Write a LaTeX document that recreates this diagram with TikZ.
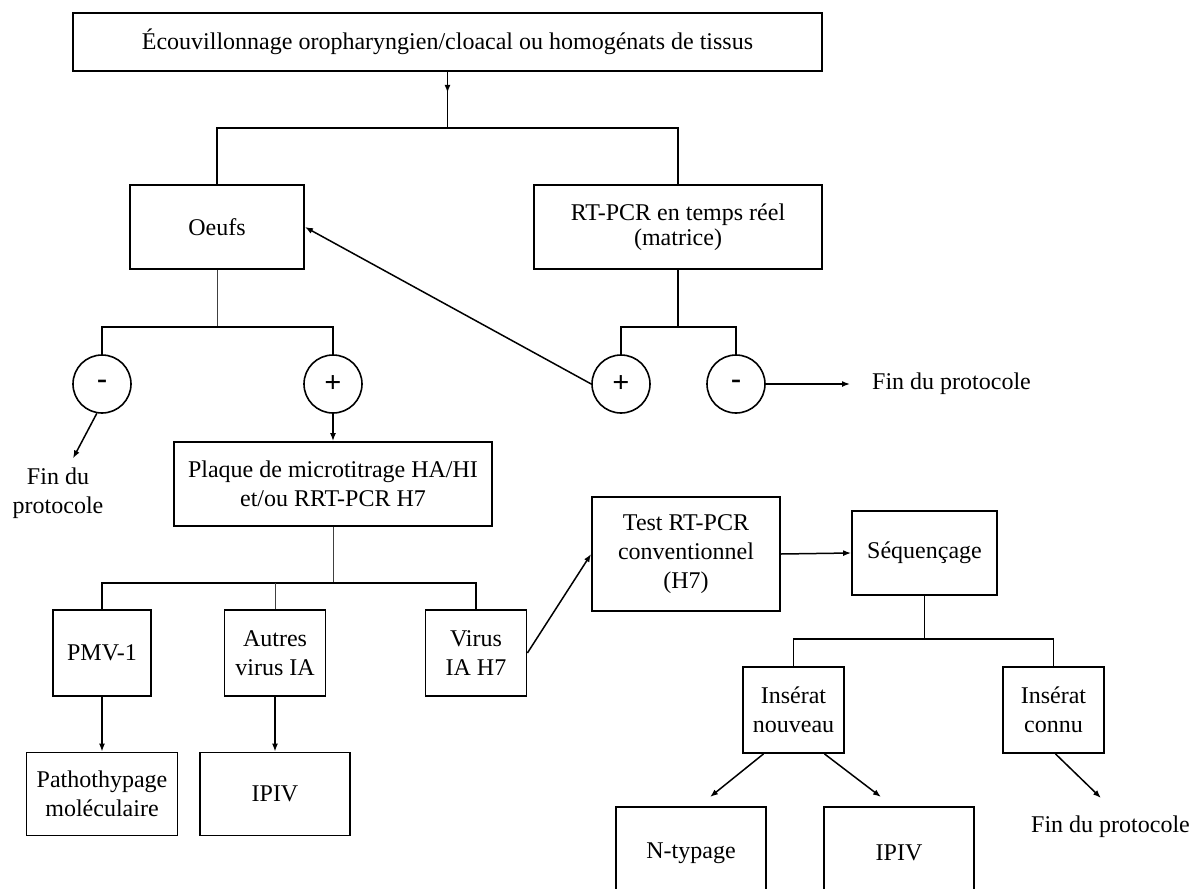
\documentclass[tikz,border=0pt]{standalone}
\usepackage{fontspec}
\setmainfont{Liberation Serif}
\usetikzlibrary{arrows.meta}
\begin{document}
\begin{tikzpicture}[x=1pt,y=-1pt,
  box/.style={draw, line width=1.8pt, align=center, inner sep=0pt, font=\fontsize{24}{29}\selectfont},
  circ/.style={draw, circle, line width=1.6pt, minimum size=58pt, inner sep=0pt, font=\fontsize{30}{30}\selectfont\bfseries},
  txt/.style={inner sep=0pt, align=center, font=\fontsize{24}{29}\selectfont},
  conn/.style={line width=1.5pt},
  arr/.style={conn, -{Latex[length=8pt,width=6pt]}},
  thinl/.style={line width=0.8pt, black!75}
]
\useasboundingbox (0,0) rectangle (1195,889);
\clip (0,0) rectangle (1195,889);
\fill[white] (0,0) rectangle (1195,889);

% boxes
\node[box, minimum width=749pt, minimum height=58pt] (top) at (447.5,42) {Écouvillonnage oropharyngien/cloacal ou homogénats de tissus};
\node[box, minimum width=174pt, minimum height=84pt] (oeufs) at (217,227) {Oeufs};
\node[box, minimum width=288pt, minimum height=84pt, font=\fontsize{24}{25}\selectfont] (rtpcr) at (678,227) {RT-PCR en temps réel\\(matrice)};
\node[circ] (mL) at (102,384) {-};
\node[circ] (pL) at (333,384) {+};
\node[circ] (pR) at (621,384) {+};
\node[circ] (mR) at (736,384) {-};
\node[txt] (lfin) at (58,493) {Fin du\\protocole};
\node[txt, anchor=west] (rfin) at (872,384) {Fin du protocole};
\node[box, minimum width=318pt, minimum height=84pt] (plaque) at (333,484) {Plaque de microtitrage HA/HI\\et/ou RRT-PCR H7};
\node[box, minimum width=98pt, minimum height=86pt] (pmv) at (102,653) {PMV-1};
\node[box, minimum width=101pt, minimum height=86pt] (autres) at (275,653) {Autres\\virus IA};
\node[box, minimum width=101pt, minimum height=86pt] (virus) at (476,653) {Virus\\IA H7};
\node[box, minimum width=151pt, minimum height=83pt] (patho) at (102,794) {Pathothypage\\moléculaire};
\node[box, minimum width=150pt, minimum height=83pt] (ipivA) at (275,794) {IPIV};
\node[box, minimum width=188pt, minimum height=114pt] (test) at (686,554) {Test RT-PCR\\conventionnel\\(H7)};
\node[box, minimum width=145pt, minimum height=84pt] (seq) at (924.5,553) {Séquençage};
\node[box, minimum width=101pt, minimum height=86pt] (nouv) at (793.5,710) {Insérat\\nouveau};
\node[box, minimum width=101pt, minimum height=86pt] (connu) at (1053.5,710) {Insérat\\connu};
\node[box, minimum width=150pt, minimum height=92pt] (ntyp) at (691,853) {N-typage};
\node[box, minimum width=150pt, minimum height=92pt] (ipivB) at (899,853) {IPIV};
\node[txt, anchor=west] (bfin) at (1031,827) {Fin du protocole};

% split points
\coordinate (s1) at (447.5,128);
\coordinate (s2) at (217,327);
\coordinate (s3) at (678,327);
\coordinate (s4) at (333,583);
\coordinate (s5) at (924.5,639);
\coordinate (e1) at (710,797);
\coordinate (e2) at (881,797);
\coordinate (e3) at (1101,798);

% connectors
\draw[conn] (top.south) -- (s1);
\draw[arr] (top.south) -- ++(0,21);
\draw[conn] (oeufs.north) -- (oeufs.north |- s1) -- (rtpcr.north |- s1) -- (rtpcr.north);
\draw[thinl] (oeufs.south) -- (s2);
\draw[conn] (mL.north) |- (s2) -| (pL.north);
\draw[conn] (rtpcr.south) -- (s3);
\draw[conn] (pR.north) |- (s3) -| (mR.north);
\draw[arr] (pR.west) -- (oeufs.east);
\draw[arr] (mR.east) -- ([xshift=-22pt]rfin.west);
\draw[arr] (mL.260) -- ([xshift=15pt,yshift=9pt]lfin.north);
\draw[arr] (pL.south) -- (plaque.north);
\draw[thinl] (plaque.south) -- (s4);
\draw[conn] (pmv.north) |- (s4) -| (virus.north);
\draw[thinl] (autres.north) -- (autres.north |- s4);
\draw[arr] (pmv.south) -- (patho.north);
\draw[arr] (autres.south) -- (ipivA.north);
\draw[arr] (virus.east) -- (test.west);
\draw[arr] (test.east) -- (seq.west);
\draw[conn] (seq.south) -- (s5);
\draw[conn] (nouv.north) |- (s5) -| (connu.north);
\draw[arr] ([xshift=-30pt]nouv.south) -- (e1);
\draw[arr] ([xshift=31pt]nouv.south) -- (e2);
\draw[arr] ([xshift=2pt]connu.south) -- (e3);
\end{tikzpicture}
\end{document}
